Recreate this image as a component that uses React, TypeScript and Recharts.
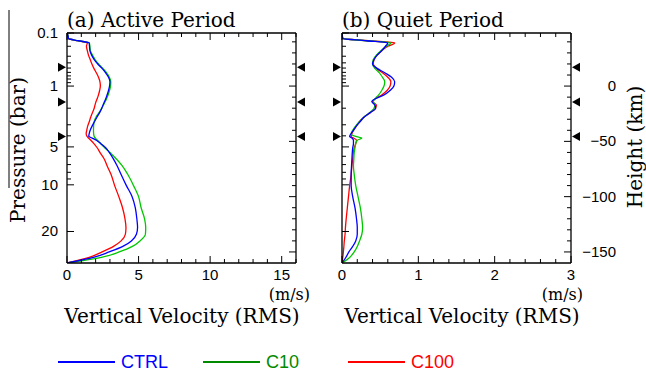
import { LineChart, Line, XAxis, YAxis, ReferenceDot } from "recharts";

// height grid (km), shared by every profile
const heights = [
  48, 45, 43, 41, 39, 36, 32, 28, 24, 20, 16, 12, 8, 4, 0, -4, -8, -11, -14, -17,
  -20, -24, -28, -32, -36, -40, -43, -45.5, -47, -49, -52, -56, -60, -66, -72,
  -80, -90, -100, -110, -120, -128, -134, -140, -145, -150, -155, -160,
];

// (a) Active period, m/s
const ctrlActive = [
  0, 0.08, 0.1, 0.8, 1.55, 1.57, 1.6, 1.72, 1.9, 2.15, 2.45, 2.7, 2.9, 3.0, 2.97,
  2.9, 2.8, 2.72, 2.62, 2.52, 2.43, 2.28, 2.1, 1.93, 1.76, 1.62, 1.55, 1.52, 1.75,
  2.05, 2.35, 2.72, 2.95, 3.25, 3.5, 3.78, 4.15, 4.55, 4.77, 4.88, 4.93, 4.85, 4.5,
  3.9, 2.95, 1.85, 0,
];
const c10Active = [
  0, 0.08, 0.1, 0.8, 1.56, 1.6, 1.63, 1.78, 1.96, 2.2, 2.5, 2.77, 2.96, 3.06, 3.04,
  2.97, 2.87, 2.78, 2.67, 2.55, 2.43, 2.24, 2.03, 1.9, 1.86, 1.85, 1.86, 1.9, 1.98,
  2.12, 2.35, 2.65, 3.0, 3.45, 3.85, 4.25, 4.65, 5.0, 5.18, 5.42, 5.5, 5.48, 5.1,
  4.57, 3.65, 2.4, 0,
];
const c100Active = [
  0, 0.08, 0.1, 0.75, 1.42, 1.36, 1.42, 1.5, 1.62, 1.74, 1.88, 2.05, 2.2, 2.3, 2.33,
  2.28, 2.2, 2.12, 2.03, 1.96, 1.9, 1.78, 1.66, 1.56, 1.45, 1.38, 1.34, 1.4, 1.5,
  1.66, 1.88, 2.12, 2.3, 2.6, 2.8, 3.08, 3.33, 3.62, 3.88, 4.05, 4.12, 4.08, 3.78,
  3.25, 2.45, 1.55, 0,
];

// (b) Quiet period, m/s
const ctrlQuiet = [
  0, 0.005, 0.01, 0.32, 0.6, 0.57, 0.52, 0.46, 0.42, 0.4, 0.46, 0.56, 0.65, 0.69,
  0.68, 0.63, 0.55, 0.45, 0.39, 0.43, 0.44, 0.37, 0.29, 0.24, 0.19, 0.15, 0.12, 0.1,
  0.13, 0.15, 0.15, 0.14, 0.135, 0.13, 0.125, 0.12, 0.12, 0.14, 0.17, 0.19, 0.2, 0.2,
  0.18, 0.14, 0.09, 0.05, 0,
];
const c10Quiet = [
  0, 0.005, 0.01, 0.33, 0.64, 0.58, 0.51, 0.45, 0.41, 0.4, 0.43, 0.49, 0.53, 0.56,
  0.55, 0.52, 0.48, 0.44, 0.41, 0.43, 0.42, 0.36, 0.29, 0.23, 0.18, 0.14, 0.12, 0.18,
  0.26, 0.2, 0.18, 0.17, 0.16, 0.155, 0.15, 0.16, 0.18, 0.21, 0.24, 0.26, 0.27, 0.26,
  0.23, 0.2, 0.16, 0.1, 0,
];
const c100Quiet = [
  0, 0.005, 0.01, 0.35, 0.69, 0.6, 0.52, 0.46, 0.42, 0.41, 0.45, 0.53, 0.6, 0.64,
  0.63, 0.59, 0.52, 0.45, 0.4, 0.45, 0.44, 0.37, 0.29, 0.23, 0.19, 0.15, 0.13, 0.12,
  0.15, 0.19, 0.18, 0.16, 0.15, 0.14, 0.13, 0.12, 0.1, 0.085, 0.07, 0.055, 0.045,
  0.04, 0.03, 0.025, 0.018, 0.01, 0,
];

const seriesNames = ["CTRL", "C10", "C100"];
const lineColors = ["#0000ff", "#00c800", "#ff0000"];
const legendColors = ["#0000ff", "#008a00", "#ff0000"];

// left axis: pressure levels placed on the height scale
const pressureValues = [
  "0.1", "0.2", "0.3", "0.4", "0.5", "0.6", "0.7", "0.8", "0.9", "1",
  "2", "3", "4", "5", "6", "7", "8", "9", "10", "20",
];
const pressureHeights = [
  48, 36, 27, 21, 16.3, 12.4, 9.2, 6.4, 3.1, 0, -20, -35, -45, -55, -63.5, -71,
  -78, -84, -89.3, -131.5,
];
const pressureLabels = ["0.1", "1", "5", "10", "20"];

// right axis: height (km)
const heightTicks = [40, 30, 20, 10, 0, -10, -20, -30, -40, -50, -60, -70, -80, -90, -100, -110, -120, -130, -140, -150];
const heightLabels = [0, -50, -100, -150];

const activeTicks = [0, 1, 2, 3, 4, 5, 6, 7, 8, 9, 10, 11, 12, 13, 14, 15, 16];
const activeLabels = [0, 5, 10, 15];
const quietTicks = [0, 0.2, 0.4, 0.6, 0.8, 1, 1.2, 1.4, 1.6, 1.8, 2, 2.2, 2.4, 2.6, 2.8, 3];
const quietLabels = [0, 1, 2, 3];

const markerHeights = [17, -14.5, -45.5];

const H_TOP = 48;
const H_BOTTOM = -160;

const SERIF = "'DejaVu Serif', serif";
const SANS = "'Liberation Sans', Arial, sans-serif";
const AXIS_LINE = { stroke: "#000", strokeWidth: 1.3 };
const CHART_H = 293;
const PLOT_TOP = 33;
const PLOT_BOTTOM = 263;
const PLOT_W = 229;

function buildRows(ctrl: number[], c10: number[], c100: number[]) {
  return heights.map((h, i) => ({ h, CTRL: ctrl[i], C10: c10[i], C100: c100[i] }));
}

const activeRows = buildRows(ctrlActive, c10Active, c100Active);
const quietRows = buildRows(ctrlQuiet, c10Quiet, c100Quiet);

function Triangle({ cx, cy, dir }: { cx: number; cy: number; dir: number }) {
  // dir 1: points right (sits left of axis), -1: points left (sits right of axis)
  const x = Number(cx);
  const y = Number(cy);
  const tip = x - dir * 1;
  const base = x - dir * 9;
  return <polygon points={`${base},${y - 4.5} ${base},${y + 4.5} ${tip},${y}`} fill="#000" />;
}

// inward frame ticks, drawn over the chart box of one panel
function FrameTicks({ x0, xMax, xTicks, xLabels }: { x0: number; xMax: number; xTicks: number[]; xLabels: number[] }) {
  const xPix = (v: number) => x0 + (v / xMax) * PLOT_W;
  const yPix = (h: number) => PLOT_TOP + ((H_TOP - h) / (H_TOP - H_BOTTOM)) * (PLOT_BOTTOM - PLOT_TOP);
  const x1 = x0 + PLOT_W;
  return (
    <g stroke="#000" strokeWidth={1}>
      {xTicks.map((v) => {
        const len = xLabels.includes(v) ? 7 : 4;
        const x = xPix(v);
        return (
          <g key={`x${v}`}>
            <line x1={x} x2={x} y1={PLOT_BOTTOM} y2={PLOT_BOTTOM - len} />
            <line x1={x} x2={x} y1={PLOT_TOP} y2={PLOT_TOP + len} />
          </g>
        );
      })}
      {pressureHeights.map((h, i) => {
        const len = pressureLabels.includes(pressureValues[i]) ? 7 : 4;
        return <line key={`p${h}`} x1={x0} x2={x0 + len} y1={yPix(h)} y2={yPix(h)} />;
      })}
      {heightTicks.map((h) => {
        const len = heightLabels.includes(h) ? 7 : 4;
        return <line key={`h${h}`} x1={x1} x2={x1 - len} y1={yPix(h)} y2={yPix(h)} />;
      })}
    </g>
  );
}

interface PanelProps {
  left: number;
  leftWidth: number;
  rightWidth: number;
  data: Array<Record<string, number>>;
  xMax: number;
  xTicks: number[];
  xLabels: number[];
  pressureText: boolean;
  heightText: boolean;
}

function Panel({ left, leftWidth, rightWidth, data, xMax, xTicks, xLabels, pressureText, heightText }: PanelProps) {
  const width = leftWidth + PLOT_W + rightWidth;

  const bottomLabel = (p: any) => {
    const v = p.payload.value;
    if (!xLabels.includes(v)) return <g />;
    return (
      <text x={Number(p.x)} y={Number(p.y) + 17} textAnchor="middle" fontSize={15} fontFamily={SANS} fill="#000">
        {v}
      </text>
    );
  };

  const leftLabel = (p: any) => {
    const label = pressureValues[pressureHeights.indexOf(p.payload.value)];
    if (!pressureText || !pressureLabels.includes(label)) return <g />;
    return (
      <text x={Number(p.x) - 9} y={Number(p.y) + 5} textAnchor="end" fontSize={15} fontFamily={SANS} fill="#000">
        {label}
      </text>
    );
  };

  const rightLabel = (p: any) => {
    const v = p.payload.value;
    if (!heightText || !heightLabels.includes(v)) return <g />;
    return (
      <text x={Number(p.x) + 45} y={Number(p.y) + 5} textAnchor="end" fontSize={15} fontFamily={SANS} fill="#000">
        {v === 0 ? "0" : "\u2212" + Math.abs(v)}
      </text>
    );
  };

  return (
    <div style={{ position: "absolute", left, top: 0 }}>
      <LineChart
        width={width}
        height={CHART_H}
        data={data}
        layout="vertical"
        margin={{ top: 0, right: 0, bottom: 0, left: 0 }}
      >
        <XAxis
          xAxisId="b"
          type="number"
          orientation="bottom"
          domain={[0, xMax]}
          allowDataOverflow
          ticks={xTicks}
          interval={0}
          height={30}
          tickSize={0}
          tickMargin={0}
          tickLine={false}
          axisLine={AXIS_LINE}
          tick={bottomLabel}
        />
        <XAxis
          xAxisId="t"
          type="number"
          orientation="top"
          domain={[0, xMax]}
          allowDataOverflow
          ticks={xTicks}
          interval={0}
          height={PLOT_TOP}
          tickSize={0}
          tickLine={false}
          axisLine={AXIS_LINE}
          tick={false}
        />
        <YAxis
          yAxisId="l"
          type="number"
          dataKey="h"
          domain={[H_BOTTOM, H_TOP]}
          reversed
          allowDataOverflow
          ticks={pressureHeights}
          interval={0}
          width={leftWidth}
          tickSize={0}
          tickMargin={0}
          tickLine={false}
          axisLine={AXIS_LINE}
          tick={leftLabel}
        />
        <YAxis
          yAxisId="r"
          type="number"
          orientation="right"
          dataKey="h"
          domain={[H_BOTTOM, H_TOP]}
          reversed
          allowDataOverflow
          ticks={heightTicks}
          interval={0}
          width={rightWidth}
          tickSize={0}
          tickMargin={0}
          tickLine={false}
          axisLine={AXIS_LINE}
          tick={rightLabel}
        />
        {[2, 1, 0].map((i) => (
          <Line
            key={seriesNames[i]}
            xAxisId="b"
            yAxisId="l"
            dataKey={seriesNames[i]}
            type="monotone"
            stroke={lineColors[i]}
            strokeWidth={1.3}
            dot={false}
            isAnimationActive={false}
          />
        ))}
        {markerHeights.map((h) => (
          <ReferenceDot key={`ml${h}`} xAxisId="b" yAxisId="l" ifOverflow="visible" x={0} y={h}
            shape={(p: any) => <Triangle cx={p.cx} cy={p.cy} dir={1} />} />
        ))}
        {markerHeights.map((h) => (
          <ReferenceDot key={`mr${h}`} xAxisId="b" yAxisId="l" ifOverflow="visible" x={xMax} y={h}
            shape={(p: any) => <Triangle cx={p.cx} cy={p.cy} dir={-1} />} />
        ))}
      </LineChart>
    </div>
  );
}

export default function App() {
  return (
    <div style={{ position: "absolute", left: 0, top: 0, width: 646, height: 371, background: "#fff" }}>
      <Panel
        left={0}
        leftWidth={67}
        rightWidth={12}
        data={activeRows}
        xMax={16}
        xTicks={activeTicks}
        xLabels={activeLabels}
        pressureText
        heightText={false}
      />
      <Panel
        left={312}
        leftWidth={30}
        rightWidth={75}
        data={quietRows}
        xMax={3}
        xTicks={quietTicks}
        xLabels={quietLabels}
        pressureText={false}
        heightText
      />
      <svg width={646} height={371} style={{ position: "absolute", left: 0, top: 0, pointerEvents: "none" }}>
        <FrameTicks x0={67} xMax={16} xTicks={activeTicks} xLabels={activeLabels} />
        <FrameTicks x0={342} xMax={3} xTicks={quietTicks} xLabels={quietLabels} />
        <text x={67} y={27} fontFamily={SERIF} fontSize={20} fill="#000">(a) Active Period</text>
        <text x={342} y={27} fontFamily={SERIF} fontSize={20} fill="#000">(b) Quiet Period</text>
        <line x1={9} x2={9} y1={10} y2={188} stroke="#000" strokeWidth={1} />
        <text transform="translate(25,150) rotate(-90)" textAnchor="middle" fontFamily={SERIF} fontSize={20} fill="#000">
          Pressure (bar)
        </text>
        <text transform="translate(642,147) rotate(-90)" textAnchor="middle" fontFamily={SERIF} fontSize={20} fill="#000">
          Height (km)
        </text>
        <text x={310} y={300} textAnchor="end" fontFamily={SERIF} fontSize={16} fill="#000">(m/s)</text>
        <text x={583} y={300} textAnchor="end" fontFamily={SERIF} fontSize={16} fill="#000">(m/s)</text>
        <text x={182} y={323} textAnchor="middle" fontFamily={SERIF} fontSize={20} fill="#000">
          Vertical Velocity (RMS)
        </text>
        <text x={462} y={323} textAnchor="middle" fontFamily={SERIF} fontSize={20} fill="#000">
          Vertical Velocity (RMS)
        </text>
        {seriesNames.map((name, i) => {
          const x0 = [58, 203, 348][i];
          return (
            <g key={name}>
              <line x1={x0} x2={x0 + 57} y1={362} y2={362} stroke={legendColors[i]} strokeWidth={2} />
              <text x={x0 + 63} y={368} fontFamily={SANS} fontSize={18} fill={legendColors[i]}>
                {name}
              </text>
            </g>
          );
        })}
      </svg>
    </div>
  );
}
